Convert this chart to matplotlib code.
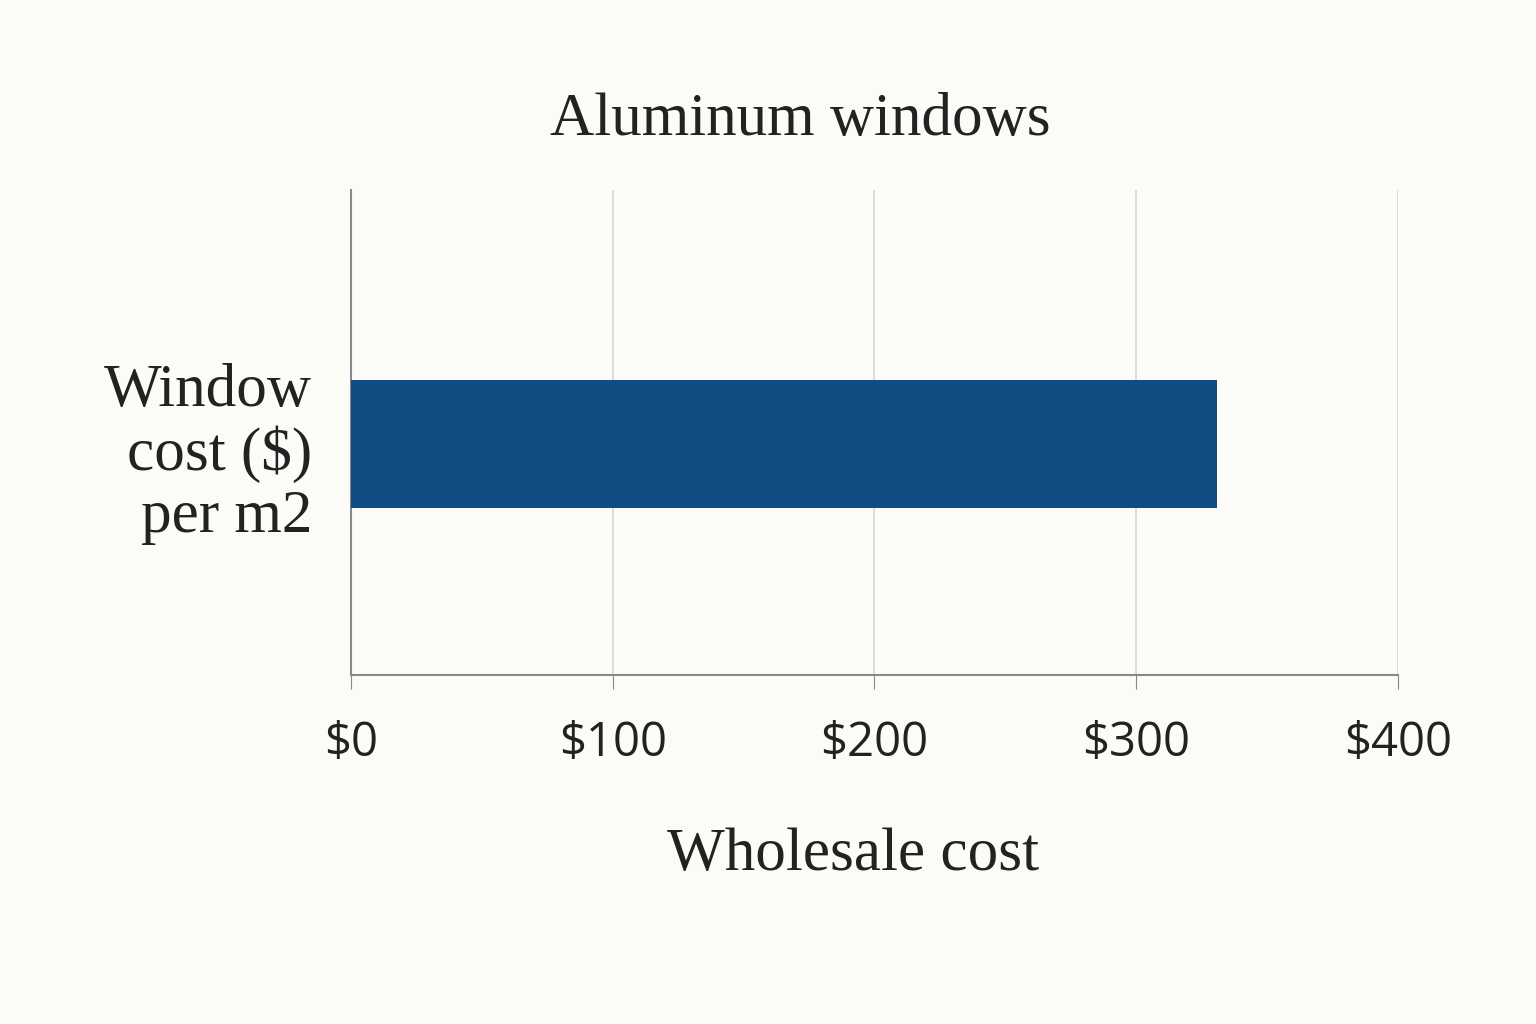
import matplotlib
matplotlib.use('Agg')
import matplotlib.pyplot as plt

categories = ['Window\ncost (\\$)\nper m2']
values = [331]
ticks = [0, 100, 200, 300, 400]
tick_labels = ['\\$0', '\\$100', '\\$200', '\\$300', '\\$400']

bg = '#fcfbf7'
fig = plt.figure(figsize=(15.36, 10.24), dpi=100, facecolor=bg)
ax = fig.add_axes([0.2285, 0.341, 0.6815, 0.473], facecolor=bg)

ax.barh([0], values, height=0.528, color='#124a82', zorder=3)
ax.set_xlim(0, 400)
ax.set_ylim(-0.952, 1.048)
ax.set_xticks(ticks)
ax.set_xticklabels(tick_labels, fontsize=34, family='Open Sans', color='#222222')
ax.set_yticks([0])
ax.set_yticklabels(categories, fontsize=44, family='Liberation Serif', color='#222222',
                   ha='right', linespacing=1.15)
ax.tick_params(axis='y', length=0, pad=28)
ax.tick_params(axis='x', length=10, color='#888888', pad=22)
ax.grid(axis='x', color='#d5d5d5', lw=1.2, zorder=0)
for s in ['top', 'right']:
    ax.spines[s].set_visible(False)
ax.spines['left'].set_color('#888888')
ax.spines['bottom'].set_color('#888888')
ax.spines['left'].set_linewidth(1.5)
ax.spines['bottom'].set_linewidth(1.5)

fig.text(800 / 1536, 1 - 120 / 1024, 'Aluminum windows', fontsize=44, family='Liberation Serif',
         color='#222222', ha='center', va='center')
fig.text(853 / 1536, 1 - 855 / 1024, 'Wholesale cost', fontsize=44, family='Liberation Serif',
         color='#222222', ha='center', va='center')

fig.savefig('out.png', facecolor=bg)
